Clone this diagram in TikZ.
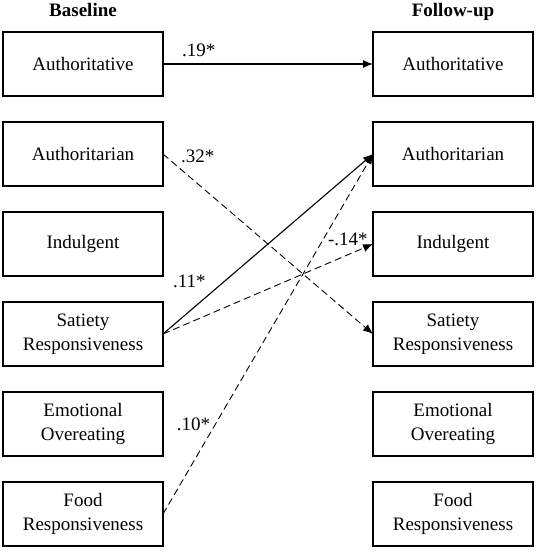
\documentclass[tikz,border=0pt]{standalone}
\usepackage{fontspec}
\setmainfont{Liberation Serif}
\usetikzlibrary{positioning,arrows.meta}

\begin{document}
\begin{tikzpicture}[
  x=1pt, y=1pt,
  font=\fontsize{19}{24}\selectfont,
  var/.style={draw, line width=1.3pt, align=center, minimum width=160pt,
              minimum height=64pt, inner sep=2pt, outer sep=0pt},
  hd/.style={font=\fontsize{19}{24}\selectfont\bfseries, text height=13pt, text depth=5pt},
  coef/.style={font=\fontsize{19}{24}\selectfont, inner sep=3pt},
  sig/.style={-{Latex[length=10pt,width=8pt]}, line width=1.1pt},
  ns/.style={sig, line width=0.9pt, dash pattern=on 7pt off 4pt}
]
\useasboundingbox (0,0) rectangle (536,-553);

% Baseline column
\node[var] (lauth) at (83,-64) {Authoritative};
\node[var, below=26pt of lauth] (lautht) {Authoritarian};
\node[var, below=26pt of lautht] (lindul) {Indulgent};
\node[var, below=26pt of lindul] (lsat)   {Satiety\\Responsiveness};
\node[var, below=26pt of lsat]   (lemo)   {Emotional\\Overeating};
\node[var, below=26pt of lemo]   (lfood)  {Food\\Responsiveness};
\node[hd, above=7pt of lauth] (base) {Baseline};

% Follow-up column
\node[var, right=210pt of lauth] (rauth) {Authoritative};
\node[var, below=26pt of rauth]  (rautht) {Authoritarian};
\node[var, below=26pt of rautht] (rindul) {Indulgent};
\node[var, below=26pt of rindul] (rsat)   {Satiety\\Responsiveness};
\node[var, below=26pt of rsat]   (remo)   {Emotional\\Overeating};
\node[var, below=26pt of remo]   (rfood)  {Food\\Responsiveness};
\node[hd, above=7pt of rauth] (follow) {Follow-up};

% edges
\draw[sig] (lauth) -- node[coef, pos=0.17, above=4pt]{.19*} (rauth);
\draw[ns] (lautht.east) -- node[coef, pos=0.07, above right]{.32*} (rsat.west);
\draw[sig] (lsat.east) -- node[coef, pos=0.22, above left=3pt and 0pt]{.11*} (rautht.west);
\draw[ns] (lsat.east) -- node[coef, pos=0.88, above=6pt]{-.14*} (rindul.west);
\draw[ns] (lfood.east) -- node[coef, pos=0.25, left=2pt]{.10*} (rautht.west);
\end{tikzpicture}
\end{document}
